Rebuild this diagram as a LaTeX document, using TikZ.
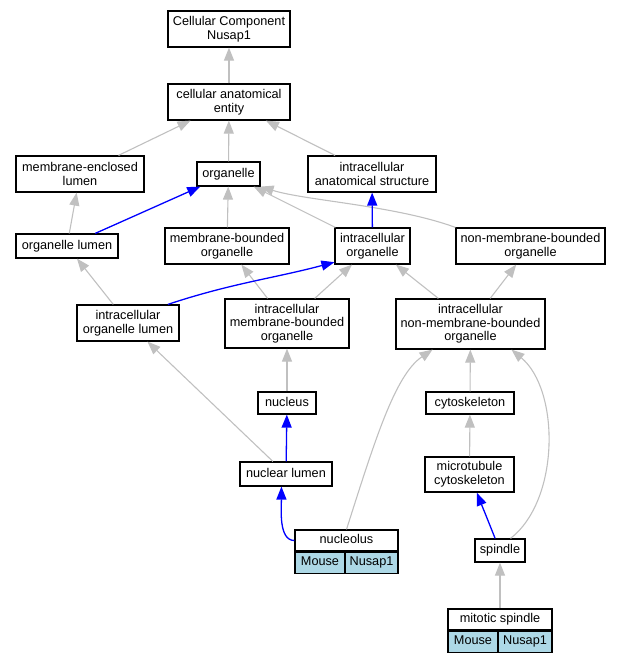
\documentclass[tikz,border=0pt]{standalone}
\usepackage{fontspec}
\setmainfont{Liberation Sans}
\usepackage{xcolor}
\usepackage{tikz}
\usetikzlibrary{positioning,arrows.meta}

\definecolor{edgegray}{HTML}{C0C0C0}
\definecolor{celblue}{HTML}{ADD8E6}

\begin{document}
\begin{tikzpicture}[x=1pt, y=-1pt,
  term/.style={draw, line width=1.2pt, fill=white, align=center, inner sep=1pt,
               font=\fontsize{12.7}{13.6}\selectfont},
  one/.style={term, text height=9.2pt, text depth=2.7pt},
  cell/.style={one, fill=celblue, minimum height=21pt},
  isa/.style={-{Triangle[length=13pt, width=10pt]}, line width=1.1pt, edgegray},
  part/.style={-{Triangle[length=13pt, width=10pt]}, line width=1.3pt, blue}
]
\useasboundingbox (0,0) rectangle (621,664);

%% Top of the ontology
\node[term, minimum width=122pt, minimum height=36pt] (ccn) at (229,29) {Cellular Component\\Nusap1};
\node[term, minimum width=122pt, minimum height=36pt] (cae) at (229,102) {cellular anatomical\\entity};

%% Second level
\node[term, minimum width=128pt, minimum height=36pt] (mel) at (80,174) {membrane-enclosed\\lumen};
\node[one, minimum width=63pt, minimum height=24pt] (org) at (228.5,174) {organelle};
\node[term, minimum width=128pt, minimum height=36pt] (ias) at (372,174) {intracellular\\anatomical structure};

%% Third level
\node[one, minimum width=102pt, minimum height=24pt] (ol) at (67,246) {organelle lumen};
\node[term, minimum width=124pt, minimum height=36pt] (mbo) at (227,246) {membrane-bounded\\organelle};
\node[term, minimum width=75pt, minimum height=36pt] (io) at (372.5,246) {intracellular\\organelle};
\node[term, minimum width=149pt, minimum height=36pt] (nmbo) at (530.5,246) {non-membrane-bounded\\organelle};

%% Fourth level
\node[term, minimum width=102pt, minimum height=36pt] (iol) at (128,323) {intracellular\\organelle lumen};
\node[term, minimum width=124pt, minimum height=49pt] (imbo) at (287,323.5) {intracellular\\membrane-bounded\\organelle};
\node[term, minimum width=149pt, minimum height=50pt] (inmbo) at (470.5,324) {intracellular\\non-membrane-bounded\\organelle};

%% Lower terms
\node[one, minimum width=58pt, minimum height=22pt] (nuc) at (287,403) {nucleus};
\node[one, minimum width=88pt, minimum height=22pt] (cyto) at (470,403) {cytoskeleton};
\node[one, minimum width=92pt, minimum height=24pt] (nl) at (286,474) {nuclear lumen};
\node[term, minimum width=89pt, minimum height=35pt] (mtc) at (469.5,474.5) {microtubule\\cytoskeleton};
\node[one, minimum width=50pt, minimum height=23pt] (spindle) at (500,550.5) {spindle};

%% Annotated terms (tables)
\node[one, minimum width=103pt, minimum height=21pt] (nucleolus) at (346.5,540.5) {nucleolus};
\node[cell, minimum width=50pt, anchor=north west] (nucleolusm) at (nucleolus.south west) {Mouse};
\node[cell, minimum width=53pt, anchor=north east] (nucleolusg) at (nucleolus.south east) {Nusap1};

\node[one, minimum width=104pt, minimum height=21pt] (ms) at (500,619.5) {mitotic spindle};
\node[cell, minimum width=50pt, anchor=north west] (msm) at (ms.south west) {Mouse};
\node[cell, minimum width=54pt, anchor=north east] (msg) at (ms.south east) {Nusap1};

%% is_a edges
\draw[isa] (cae) -- (ccn);
\draw[isa] (mel) -- (cae);
\draw[isa] (org) -- (cae);
\draw[isa] (ias) -- (cae);
\draw[isa] (ol) -- (mel);
\draw[isa] (mbo) -- (org);
\draw[isa] (io) -- (org);
\draw[isa] (nmbo.north west) .. controls +(-60,-22) and +(45,14) .. (org.south east);
\draw[isa] (iol) -- (ol);
\draw[isa] (imbo) -- (mbo);
\draw[isa] (imbo) -- (io);
\draw[isa] (inmbo) -- (io);
\draw[isa] (inmbo) -- (nmbo);
\draw[isa] (nuc) -- (imbo);
\draw[isa] (cyto) -- (inmbo);
\draw[isa] (nl) -- (iol);
\draw[isa] (mtc) -- (cyto);
\draw[isa] (nucleolus.north) .. controls (375,440) and (395,375) .. (inmbo.214);
\draw[isa] (spindle.49) .. controls (560,500) and (560,390) .. (inmbo.328);
\draw[isa] (ms) -- (spindle);

%% part_of edges
\draw[part] (ol) -- (org);
\draw[part] (io) -- (ias);
\draw[part] (iol.25) .. controls +(63,-21) and +(-60,16) .. (io.203);
\draw[part] (nl) -- (nuc);
\draw[part] (nucleolus.west) .. controls +(-16,0) and +(0,22) .. (nl.250);
\draw[part] (spindle) -- (mtc);
\end{tikzpicture}
\end{document}
